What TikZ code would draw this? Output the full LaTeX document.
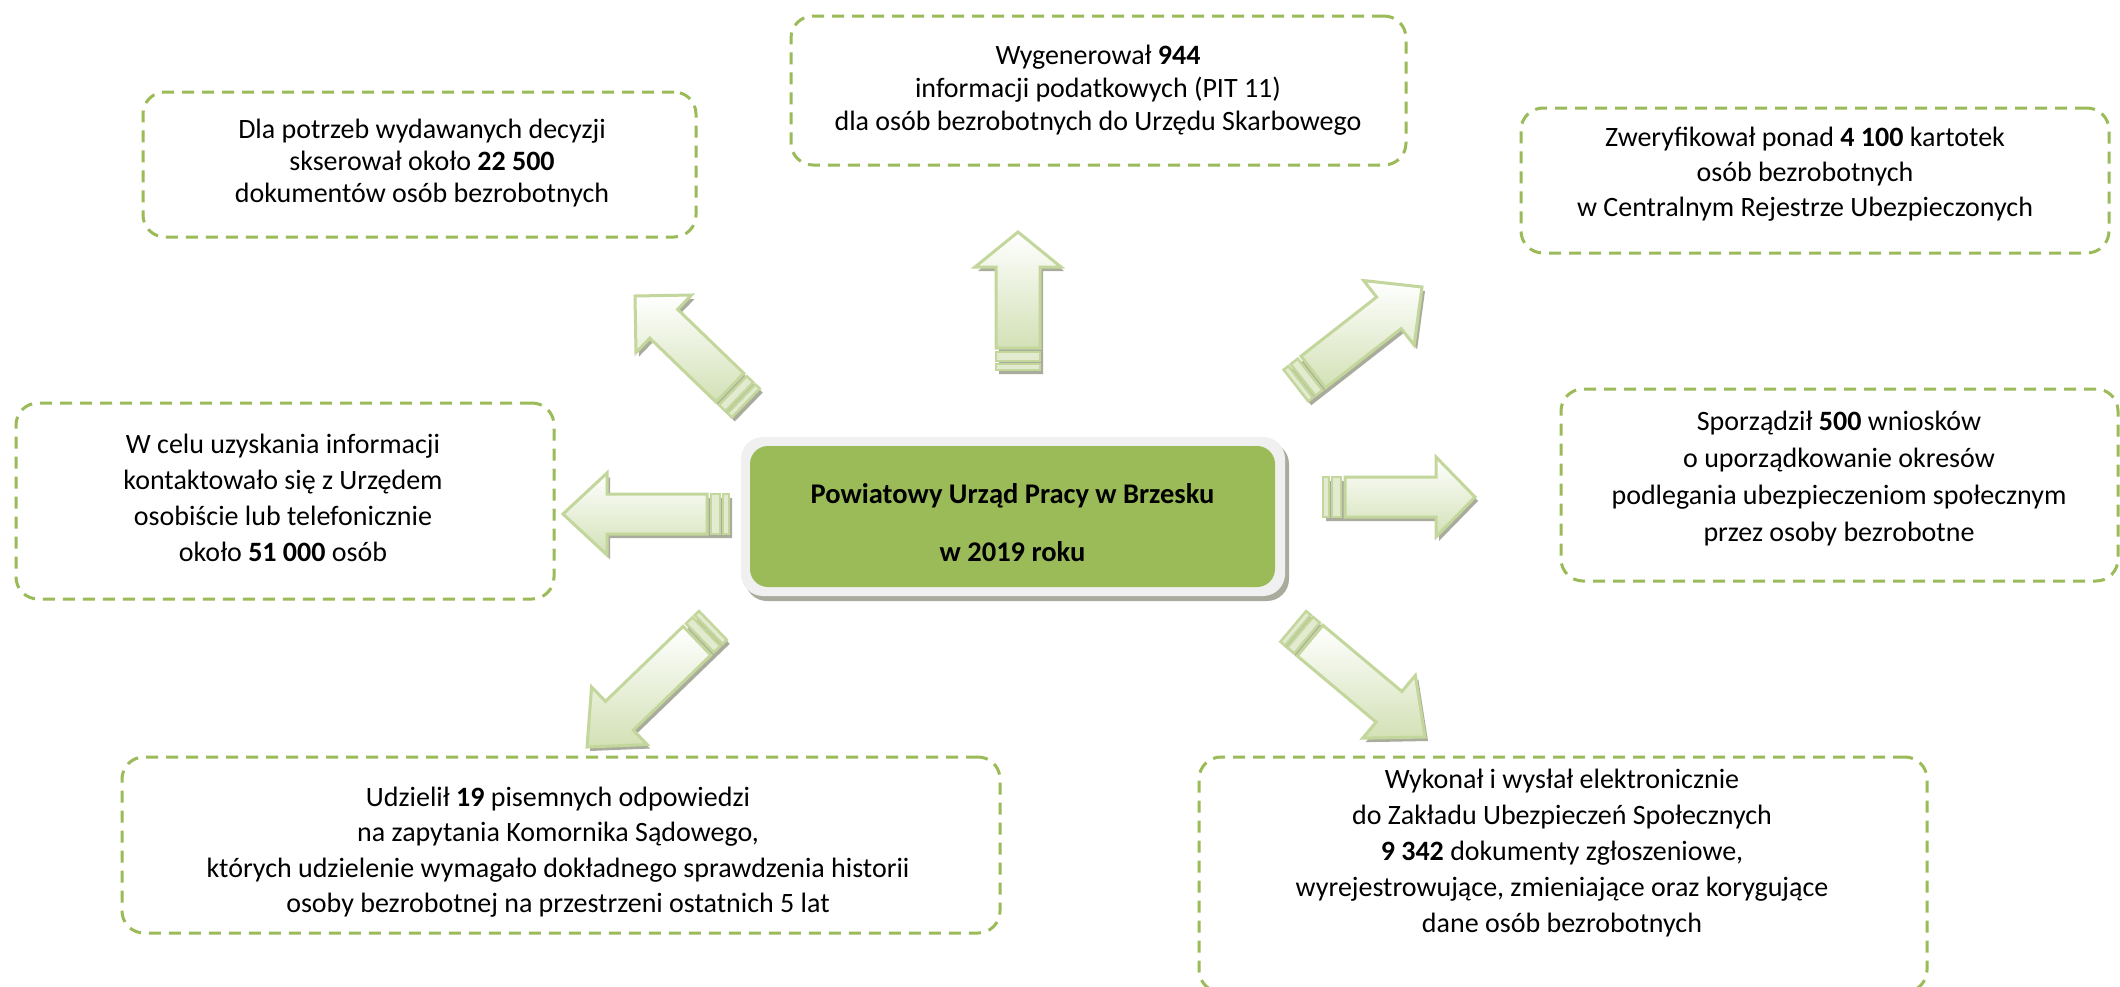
\documentclass[tikz,border=0pt]{standalone}
\usepackage{fontspec}
\setmainfont{Carlito}
\definecolor{dgreen}{HTML}{9BBB59}
\definecolor{aline}{HTML}{C3D69B}
\definecolor{afill}{HTML}{D3E1B6}
\definecolor{sfill}{HTML}{E2EBD0}
\definecolor{shadowc}{HTML}{A9AC9C}
\definecolor{framec}{HTML}{F0F0F0}
\tikzset{
  dbox/.style={draw=dgreen, line width=3, dash pattern=on 12 off 8, rounded corners=22, inner sep=0},
  txt/.style={align=center, inner sep=0, text=black},
  arrowbody/.style={draw=aline, line width=3, line join=miter, top color=white, bottom color=afill},
  arrowstripe/.style={draw=aline, line width=2.5, fill=sfill},
  arrowshadow/.style={fill=shadowc, draw=none},
}
\newcommand\barrow[7]{%
  \pgfmathsetmacro\bhl{#5}\pgfmathsetmacro\bhw{#6}\pgfmathsetmacro\bsw{#7}%
  \pgfmathsetmacro\bend{-#5-#4}%
  \pgfmathsetmacro\sa{\bend-4}\pgfmathsetmacro\sb{\bend-13}%
  \pgfmathsetmacro\sc{\bend-16}\pgfmathsetmacro\sd{\bend-22}%
  \begin{scope}[shift={(#1,#2)}, shift={(3,4)}, rotate=#3]
    \fill[arrowshadow] (0,0) -- (-\bhl,\bhw) -- (-\bhl,\bsw) -- (\bend,\bsw) -- (\sd,\bsw) -- (\sd,-\bsw) -- (-\bhl,-\bsw) -- (-\bhl,-\bhw) -- cycle;
  \end{scope}
  \begin{scope}[shift={(#1,#2)}, rotate=#3]
    \draw[arrowstripe] (\sa,-\bsw) rectangle (\sb,\bsw);
    \draw[arrowstripe] (\sc,-\bsw) rectangle (\sd,\bsw);
    \draw[arrowbody] (0,0) -- (-\bhl,\bhw) -- (-\bhl,\bsw) -- (\bend,\bsw) -- (\bend,-\bsw) -- (-\bhl,-\bsw) -- (-\bhl,-\bhw) -- cycle;
  \end{scope}}
\begin{document}
\begin{tikzpicture}[x=1pt,y=-1pt]
\useasboundingbox (0,0) rectangle (2120,986);
\fill[white] (0,0) rectangle (2120,986);

% dashed boxes
\node[dbox, minimum width=553, minimum height=145] (b1) at (419.5,164.5) {};
\node[dbox, minimum width=615, minimum height=149] (b2) at (1098.5,90.5) {};
\node[dbox, minimum width=588, minimum height=145] (b3) at (1815,180.5) {};
\node[dbox, minimum width=538, minimum height=196] (b4) at (285,501) {};
\node[dbox, minimum width=557, minimum height=192] (b5) at (1839.5,485) {};
\node[dbox, minimum width=878, minimum height=176] (b6) at (561,845) {};
\node[dbox, minimum width=728, minimum height=235] (b7) at (1563,874.5) {};

% texts
\node[txt, font=\fontsize{28}{32}\selectfont] (t1) at (422,163) {Dla potrzeb wydawanych decyzji\\skserował około \textbf{22 500}\\dokumentów osób bezrobotnych};
\node[txt, font=\fontsize{28}{33}\selectfont] (t2) at (1098,90) {Wygenerował \textbf{944}\\informacji podatkowych (PIT 11)\\dla osób bezrobotnych do Urzędu Skarbowego};
\node[txt, font=\fontsize{28}{35}\selectfont] (t3) at (1805,174) {Zweryfikował ponad \textbf{4 100} kartotek\\osób bezrobotnych\\w Centralnym Rejestrze Ubezpieczonych};
\node[txt, font=\fontsize{28}{36}\selectfont] (t4) at (283,498) {W celu uzyskania informacji\\kontaktowało się z Urzędem\\osobiście lub telefonicznie\\około \textbf{51 000} osób};
\node[txt, font=\fontsize{28}{37}\selectfont] (t5) at (1839,479) {Sporządził \textbf{500} wniosków\\o uporządkowanie okresów\\podlegania ubezpieczeniom społecznym\\przez osoby bezrobotne};
\node[txt, font=\fontsize{28}{35.5}\selectfont] (t6) at (558,852) {Udzielił \textbf{19} pisemnych odpowiedzi\\na zapytania Komornika Sądowego,\\których udzielenie wymagało dokładnego sprawdzenia historii\\osoby bezrobotnej na przestrzeni ostatnich 5 lat};
\node[txt, font=\fontsize{28}{36}\selectfont] (t7) at (1562,853) {Wykonał i wysłał elektronicznie\\do Zakładu Ubezpieczeń Społecznych\\\textbf{9 342} dokumenty zgłoszeniowe,\\wyrejestrowujące, zmieniające oraz korygujące\\dane osób bezrobotnych};

% centre box
\fill[shadowc, rounded corners=22] (745,442) rectangle (1289,601);
\fill[framec, rounded corners=22] (741,437) rectangle (1285,596);
\node[fill=dgreen, rounded corners=18, minimum width=525, minimum height=141, inner sep=0] (c) at (1012.5,516.5) {};
\node[txt, font=\fontsize{28.5}{58}\selectfont\bfseries] (ct) at (1012.5,523) {Powiatowy Urząd Pracy w Brzesku\\w 2019 roku};

% arrows
\barrow{1018}{232}{90}{81}{35}{43}{22}
\barrow{635}{296}{136}{92}{40}{40}{20}
\barrow{1422}{287}{38}{96}{42}{41}{20}
\barrow{563}{514}{180}{100}{44}{41}{20}
\barrow{1475}{497}{0}{91}{39}{40}{20}
\barrow{587}{747}{224}{108}{45}{40}{20}
\barrow{1425}{737}{320}{103}{47}{41}{20}
\end{tikzpicture}
\end{document}
